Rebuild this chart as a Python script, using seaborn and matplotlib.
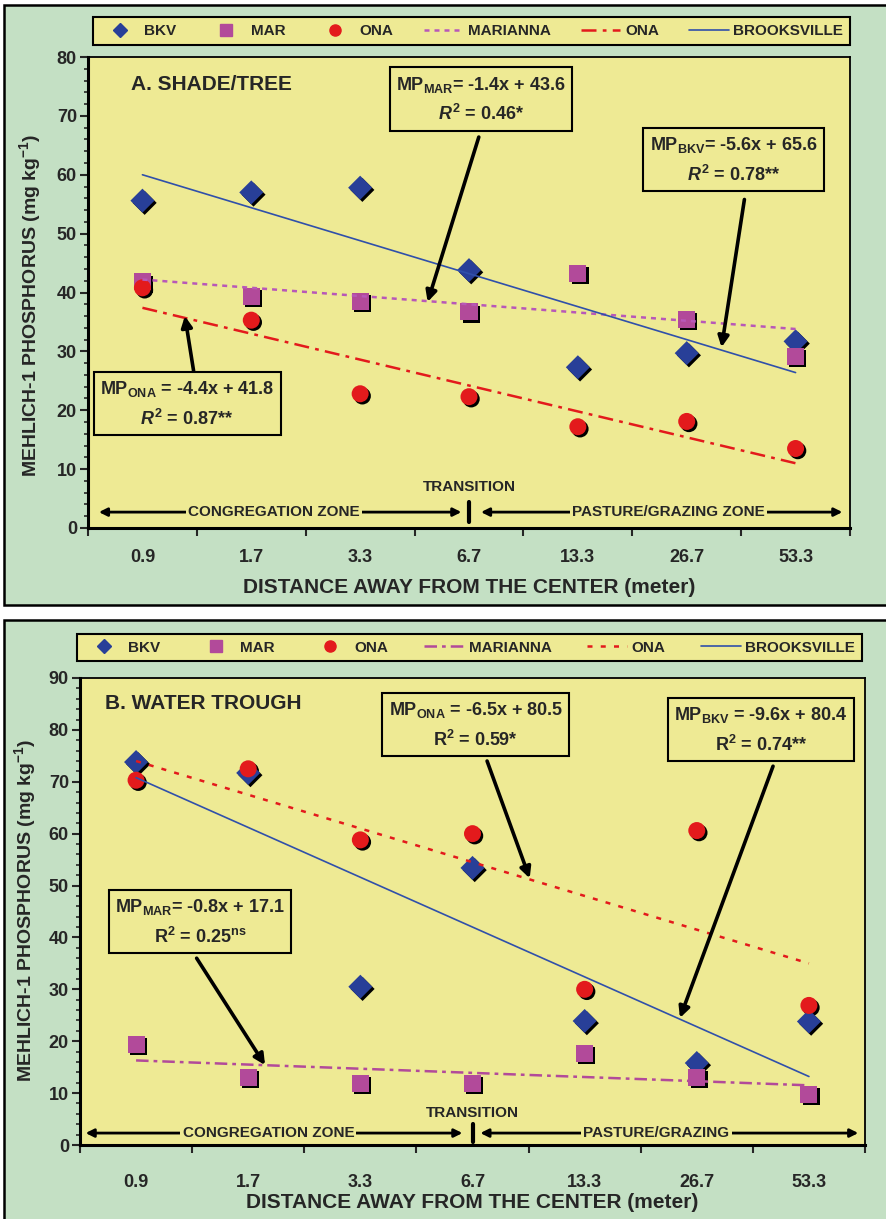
import numpy as np
import pandas as pd
import matplotlib.pyplot as plt
import matplotlib.transforms as mtransforms
from matplotlib.patches import Rectangle
from matplotlib.lines import Line2D
from matplotlib.ticker import MultipleLocator, FixedLocator
import seaborn as sns

# distances (categorical x axis)
distance = ['0.9', '1.7', '3.3', '6.7', '13.3', '26.7', '53.3']
pos = np.arange(1, 8)

# A. shade/tree
bkv_a = [55.6, 57.0, 57.8, 43.8, 27.3, 29.7, 31.7]
mar_a = [41.8, 39.4, 38.5, 36.7, 43.2, 35.4, 29.2]
ona_a = [40.8, 35.3, 22.8, 22.3, 17.2, 18.1, 13.5]
mar_fit_a = (-1.4, 43.6)
ona_fit_a = (-4.4, 41.8)
bkv_fit_a = (-5.6, 65.6)

# B. water trough
bkv_b = [73.8, 71.7, 30.5, 53.4, 23.9, 15.8, 23.8]
mar_b = [19.4, 13.1, 11.9, 11.9, 17.7, 13.1, 9.8]
ona_b = [70.3, 72.5, 58.8, 60.0, 30.0, 60.6, 26.9]
mar_fit_b = (-0.8, 17.1)
ona_fit_b = (-6.5, 80.5)
bkv_fit_b = (-9.6, 80.4)

GREEN = '#c4e0c4'
YELLOW = '#eeea94'
BLUE = '#283f98'
LBLUE = '#3050aa'
MAG = '#b24a9a'
LMAG = '#b858b8'
RED = '#e31a1c'

sns.set_style('ticks')
plt.rcParams['font.family'] = ['Liberation Sans', 'DejaVu Sans']
plt.rcParams['font.weight'] = 'bold'
plt.rcParams['mathtext.fontset'] = 'custom'
plt.rcParams['mathtext.rm'] = 'Liberation Sans:bold'
plt.rcParams['mathtext.bf'] = 'Liberation Sans:bold'
plt.rcParams['mathtext.it'] = 'Liberation Sans:bold:italic'
plt.rcParams['mathtext.default'] = 'bf'

W, H = 886, 1219
fig = plt.figure(figsize=(W / 100, H / 100), dpi=100)


def box(x0, y0, x1, y1):
    return [x0 / W, 1 - y1 / H, (x1 - x0) / W, (y1 - y0) / H]


# green panel backgrounds
for top, bot in [(5, 605), (620, 1225)]:
    fig.add_artist(Rectangle((4 / W, 1 - bot / H), (W + 10) / W, (bot - top) / H,
                             transform=fig.transFigure, fc=GREEN, ec='black',
                             lw=1.8, zorder=-5))


def draw_panel(ax, bkv, mar, ona, fits, styles, ymax, title):
    df = pd.DataFrame({'x': np.tile(pos, 3), 'P': bkv + mar + ona,
                       'site': ['BKV'] * 7 + ['MAR'] * 7 + ['ONA'] * 7})
    marks = {'BKV': 'D', 'MAR': 's', 'ONA': 'o'}
    # shadow
    sns.scatterplot(data=df, x='x', y='P', style='site', markers=marks, color='black',
                    s=150, linewidth=0, legend=False, ax=ax, zorder=3)
    off = mtransforms.ScaledTranslation(1.6 / 72, -1.6 / 72, fig.dpi_scale_trans)
    ax.collections[-1].set_offset_transform(ax.transData + off)
    sns.scatterplot(data=df, x='x', y='P', hue='site', style='site', markers=marks,
                    palette={'BKV': BLUE, 'MAR': MAG, 'ONA': RED},
                    s=150, linewidth=0, legend=False, ax=ax, zorder=4)
    # regression lines
    for (slope, icpt), (col, lw, ls) in zip(fits, styles):
        sns.lineplot(x=pos, y=slope * pos + icpt, color=col, lw=lw, linestyle=ls,
                     ax=ax, zorder=5)

    ax.set_facecolor(YELLOW)
    ax.set_xlim(0.5, 7.5)
    ax.set_ylim(0, ymax)
    ax.yaxis.set_major_locator(MultipleLocator(10))
    ax.yaxis.set_minor_locator(MultipleLocator(2))
    ax.xaxis.set_major_locator(FixedLocator(np.arange(0.5, 8, 1)))
    ax.xaxis.set_minor_locator(FixedLocator(pos))
    ax.set_xticklabels([])
    ax.set_xticklabels(distance, minor=True)
    ax.tick_params(axis='x', which='major', length=6, width=1.5, direction='out')
    ax.tick_params(axis='y', which='major', length=6, width=1.5, direction='out',
                   labelsize=13, pad=2)
    ax.tick_params(axis='y', which='minor', length=3, width=1.2, direction='out')
    for sp in ['left', 'bottom']:
        ax.spines[sp].set_linewidth(2.2)
    for sp in ['top', 'right']:
        ax.spines[sp].set_linewidth(1.3)
    for sp in ax.spines.values():
        sp.set_color('black')
    ax.set_xlabel('DISTANCE AWAY FROM THE CENTER (meter)', fontsize=15, fontweight='bold')
    ax.set_ylabel('MEHLICH-1 PHOSPHORUS (mg kg$^{\\mathbf{-1}}$)', fontsize=14,
                  fontweight='bold')
    ax.xaxis.label.set_va('center')
    ax.yaxis.label.set_va('center')
    ax.text(title[1], title[2], title[0], transform=ax.transAxes, fontsize=15,
            fontweight='bold', va='center', ha='left')


def zones(ax, yarr, ytr, xs, right_label):
    arrow = dict(arrowstyle='<|-|>', lw=2, color='black', mutation_scale=12,
                 shrinkA=0, shrinkB=0)
    ax.annotate('', xy=(xs[0], yarr), xytext=(xs[1], yarr), arrowprops=arrow)
    ax.annotate('', xy=(xs[2], yarr), xytext=(xs[3], yarr), arrowprops=arrow)
    lab = dict(fontsize=11, fontweight='bold', ha='center', va='center',
               bbox=dict(fc=YELLOW, ec='none', pad=1.5))
    ax.text(xs[4], yarr, 'CONGREGATION ZONE', **lab)
    ax.text(xs[5], yarr, right_label, **lab)
    ax.plot([4, 4], [yarr - 1.7, yarr + 1.7], color='black', lw=3)
    ax.text(4, ytr, 'TRANSITION', fontsize=11, fontweight='bold', ha='center', va='center')


def eq_box(ax, text, xy, tail, head):
    ax.text(xy[0], xy[1], text, fontsize=13, fontweight='bold', ha='center', va='center',
            multialignment='center', linespacing=1.6, zorder=7,
            bbox=dict(boxstyle='square,pad=0.35', fc=YELLOW, ec='black', lw=1.5))
    ax.annotate('', xy=head, xytext=tail, zorder=7,
                arrowprops=dict(arrowstyle='-|>', lw=2.6, color='black',
                                mutation_scale=16, shrinkA=0, shrinkB=0))


def legend(top, bot, styles):
    handles = [
        Line2D([], [], marker='D', color=BLUE, ls='none', markersize=7),
        Line2D([], [], marker='s', color=MAG, ls='none', markersize=8),
        Line2D([], [], marker='o', color=RED, ls='none', markersize=8),
    ] + [Line2D([], [], color=c, lw=lw, linestyle=ls) for c, lw, ls in styles]
    labels = ['BKV', 'MAR', 'ONA', 'MARIANNA', 'ONA', 'BROOKSVILLE']
    leg = fig.legend(handles, labels, loc='center', ncol=6, mode='expand',
                     bbox_to_anchor=box(top[0], top[1], bot[0], bot[1]),
                     bbox_transform=fig.transFigure,
                     prop={'weight': 'bold', 'size': 11}, frameon=True,
                     fancybox=False, facecolor=YELLOW, edgecolor='black',
                     framealpha=1, handlelength=2.6, handletextpad=0.3,
                     borderaxespad=0, borderpad=0.45)
    leg.get_frame().set_linewidth(1.5)


# ---------------- panel A ----------------
styles_a = [(LMAG, 1.8, (0, (2, 2))), (RED, 1.8, (0, (6, 2.5, 1.5, 2.5))), (LBLUE, 1.2, '-')]
ax1 = fig.add_axes(box(88, 57, 850, 528))
draw_panel(ax1, bkv_a, mar_a, ona_a, [mar_fit_a, ona_fit_a, bkv_fit_a], styles_a, 80,
           ('A. SHADE/TREE', 0.056, 0.941))
ax1.tick_params(axis='x', which='minor', length=0, labelsize=13, pad=15)
ax1.xaxis.set_label_coords(0.5, -0.127)
ax1.yaxis.set_label_coords(-0.076, 0.473)
zones(ax1, 2.7, 7.0, [0.6, 3.93, 4.11, 7.43, 2.21, 5.83], 'PASTURE/GRAZING ZONE')
eq_box(ax1, 'MP$_{\\mathbf{MAR}}$= -1.4x + 43.6\n$\\mathit{R}^{\\mathbf{2}}$ = 0.46*',
       (4.11, 72.8), (4.09, 66.4), (3.62, 38.4))
eq_box(ax1, 'MP$_{\\mathbf{BKV}}$= -5.6x + 65.6\n$\\mathit{R}^{\\mathbf{2}}$ = 0.78**',
       (6.43, 62.5), (6.53, 55.8), (6.32, 30.7))
eq_box(ax1, 'MP$_{\\mathbf{ONA}}$ = -4.4x + 41.8\n$\\mathit{R}^{\\mathbf{2}}$ = 0.87**',
       (1.41, 21.1), (1.47, 26.7), (1.39, 36.0))
legend((93, 17), (850, 45), styles_a)

# ---------------- panel B ----------------
styles_b = [(MAG, 1.8, (0, (5, 2, 1.5, 2))), (RED, 1.8, (0, (2, 3.3))), (LBLUE, 1.2, '-')]
ax2 = fig.add_axes(box(80, 678, 865, 1145))
draw_panel(ax2, bkv_b, mar_b, ona_b, [mar_fit_b, ona_fit_b, bkv_fit_b], styles_b, 90,
           ('B. WATER TROUGH', 0.032, 0.946))
ax2.tick_params(axis='x', which='minor', length=0, labelsize=13, pad=21)
ax2.xaxis.set_label_coords(0.5, -0.124)
ax2.yaxis.set_label_coords(-0.07, 0.503)
zones(ax2, 2.3, 6.2, [0.55, 3.91, 4.07, 7.44, 2.18, 5.64], 'PASTURE/GRAZING')
eq_box(ax2, 'MP$_{\\mathbf{ONA}}$ = -6.5x + 80.5\nR$^{\\mathbf{2}}$ = 0.59*',
       (4.03, 80.9), (4.13, 74.0), (4.51, 51.4))
eq_box(ax2, 'MP$_{\\mathbf{BKV}}$ = -9.6x + 80.4\nR$^{\\mathbf{2}}$ = 0.74**',
       (6.57, 80.0), (6.68, 73.0), (5.85, 24.5))
eq_box(ax2, 'MP$_{\\mathbf{MAR}}$= -0.8x + 17.1\nR$^{\\mathbf{2}}$ = 0.25$^{\\mathbf{ns}}$',
       (1.57, 43.0), (1.54, 36.0), (2.15, 15.4))
legend((77, 633), (862, 662), styles_b)

fig.savefig('out.png', dpi=100, facecolor='white')
